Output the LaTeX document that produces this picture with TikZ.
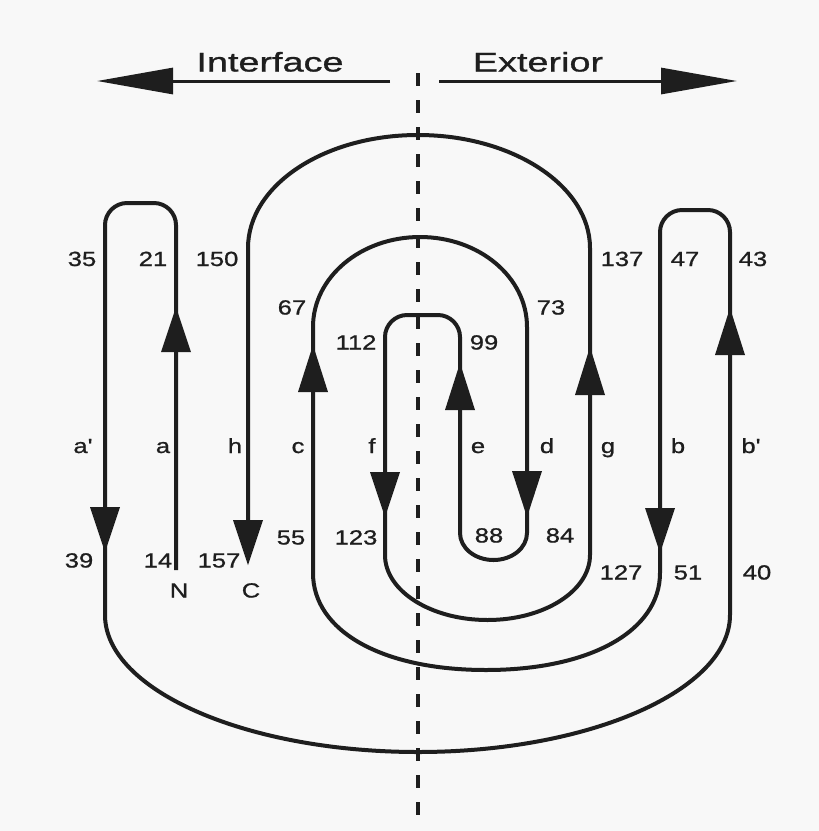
\documentclass[tikz,border=0pt]{standalone}
\usepackage{fontspec}
\setmainfont{Liberation Sans}
\newfontfamily\labfont[FakeStretch=1.25,FakeBold=0.9]{Liberation Sans}
\newfontfamily\headfont[FakeStretch=1.4,FakeBold=1]{Liberation Sans}
\usetikzlibrary{arrows.meta}
\definecolor{ink}{RGB}{30,30,30}
\definecolor{paper}{RGB}{248,248,248}
\begin{document}
\begin{tikzpicture}[x=1pt,y=-1pt,
  strand/.style={draw=ink,line width=4pt,line join=round},
  head/.style={fill=ink},
  lab/.style={font=\labfont\fontsize{20.5}{22}\selectfont,text=ink,inner sep=0pt,anchor=base},
  hdr/.style={font=\headfont\fontsize{27}{30}\selectfont,text=ink,inner sep=0pt,anchor=base},
  axisarrow/.style={draw=ink,line width=3pt,-{Triangle[length=76pt,width=26pt]}},
  memb/.style={draw=ink,line width=4.5pt,dash pattern=on 13pt off 14pt}]
\fill[paper] (0,0) rectangle (819,831);
\useasboundingbox (0,0) rectangle (819,831);

% header
\node[hdr] (interface) at (270,71.5) {Interface};
\node[hdr] (exterior) at (538,71.5) {Exterior};
\coordinate (lstart) at (390,81);
\coordinate (ltip) at (97,81);
\coordinate (rstart) at (439,81);
\coordinate (rtip) at (737,81);
\draw[axisarrow] (lstart) -- (ltip);
\draw[axisarrow] (rstart) -- (rtip);

% membrane
\coordinate (mtop) at (418,73);
\coordinate (mbot) at (418,815);
\draw[memb] (mtop) -- (mbot);

% chain
\coordinate (Nend) at (176,570);
\coordinate (Cend) at (248,557);
\draw[strand] (Nend) -- (176,225)
 .. controls (176,213) and (166,203) .. (154,203) -- (127,203)
 .. controls (115,203) and (105,213) .. (105,225)
 -- (105,615)
 .. controls (105,690) and (246,752) .. (418,752)
 .. controls (590,752) and (730,690) .. (730,615)
 -- (730,232)
 .. controls (730,220) and (720,210) .. (708,210) -- (682,210)
 .. controls (670,210) and (660,220) .. (660,232)
 -- (660,573)
 .. controls (660,631) and (590,670) .. (486,670)
 .. controls (382,670) and (313,631) .. (313,573)
 -- (313,327)
 .. controls (313,277) and (361,237) .. (420,237)
 .. controls (479,237) and (527,277) .. (527,327)
 -- (527,533)
 .. controls (527,548) and (512,560) .. (493.5,560)
 .. controls (475,560) and (460,548) .. (460,533)
 -- (460,337)
 .. controls (460,325) and (450,315) .. (438,315) -- (407,315)
 .. controls (395,315) and (385,325) .. (385,337)
 -- (385,555)
 .. controls (385,591) and (431,620) .. (487.5,620)
 .. controls (544,620) and (590,591) .. (590,555)
 -- (590,248)
 .. controls (590,186) and (513,135) .. (418,135)
 .. controls (323,135) and (248,186) .. (248,248)
 -- (Cend);

% arrowheads (up)
\fill[head] (176,307) -- (161,352) -- (191,352) -- cycle;
\fill[head] (313,345) -- (298,392) -- (328,392) -- cycle;
\fill[head] (460,363) -- (445,410) -- (475,410) -- cycle;
\fill[head] (590,347) -- (575,395) -- (605,395) -- cycle;
\fill[head] (730,308) -- (715,355) -- (745,355) -- cycle;
% arrowheads (down)
\fill[head] (105,552) -- (90,507) -- (120,507) -- cycle;
\fill[head] (248,565) -- (233,520) -- (263,520) -- cycle;
\fill[head] (385,517) -- (370,472) -- (400,472) -- cycle;
\fill[head] (527,517) -- (512,471) -- (542,471) -- cycle;
\fill[head] (660,553) -- (645,508) -- (675,508) -- cycle;

% residue numbers
\node[lab] (n35) at (82,266) {35};
\node[lab] (n21) at (153,266) {21};
\node[lab] (n150) at (217,266) {150};
\node[lab] (n137) at (622,266) {137};
\node[lab] (n47) at (685,266) {47};
\node[lab] (n43) at (753,266) {43};
\node[lab] (n67) at (292,314.5) {67};
\node[lab] (n73) at (551,314.5) {73};
\node[lab] (n112) at (356,349.5) {112};
\node[lab] (n99) at (484,349.5) {99};
\node[lab] (n39) at (79,567.5) {39};
\node[lab] (n14) at (158,567.5) {14};
\node[lab] (n157) at (219,567.5) {157};
\node[lab] (n55) at (291,544.5) {55};
\node[lab] (n123) at (356,544.5) {123};
\node[lab] (n88) at (489,542.5) {88};
\node[lab] (n84) at (560,542.5) {84};
\node[lab] (n127) at (621,579.5) {127};
\node[lab] (n51) at (688,579.5) {51};
\node[lab] (n40) at (757,579.5) {40};
\node[lab] (lN) at (179,597.5) {N};
\node[lab] (lC) at (251,597.5) {C};

% strand letters
\node[lab] (sa2) at (83,453) {a'};
\node[lab] (sa) at (163,453) {a};
\node[lab] (sh) at (235,453) {h};
\node[lab] (sc) at (298,453) {c};
\node[lab] (sf) at (372,453) {f};
\node[lab] (se) at (478,453) {e};
\node[lab] (sd) at (547,453) {d};
\node[lab] (sg) at (608,453) {g};
\node[lab] (sb) at (678,453) {b};
\node[lab] (sb2) at (751,453) {b'};
\end{tikzpicture}
\end{document}
